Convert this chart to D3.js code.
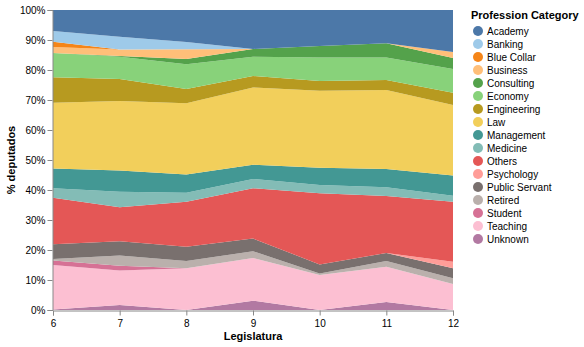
<!DOCTYPE html>
<html><head><meta charset="utf-8">
<script src="https://cdn.jsdelivr.net/npm/d3@7"></script>
<style>body{margin:0;background:#fff}svg{display:block;font-family:"Liberation Sans",Arial,sans-serif}</style>
</head><body><svg id="c" width="584" height="347"></svg>
<script>
const legislaturas = [6, 7, 8, 9, 10, 11, 12];
const categories = ["Academy","Banking","Blue Collar","Business","Consulting","Economy","Engineering","Law","Management","Medicine","Others","Psychology","Public Servant","Retired","Student","Teaching","Unknown"];
const colors = ["#4c78a8","#9ecae9","#f58518","#ffbf79","#54a24b","#88d27a","#b79a20","#f2cf5b","#439894","#83bcb6","#e45756","#ff9d98","#79706e","#bab0ac","#d67195","#fcbfd2","#b279a2"];
// percentage share per legislatura (6..12)
const academy       = [7.0, 8.9, 10.7, 13.0, 12.0, 11.1, 14.0];
const banking       = [3.6, 4.2, 2.4, 0, 0, 0, 0];
const blueCollar    = [1.7, 0, 0, 0, 0, 0, 0];
const business      = [2.0, 2.2, 3.2, 0, 0, 0, 2.0];
const consulting    = [0, 0.2, 1.8, 2.6, 3.8, 4.7, 3.7];
const economy       = [8.1, 7.4, 8.2, 6.4, 7.9, 7.5, 7.9];
const engineering   = [8.5, 7.3, 4.8, 3.8, 3.2, 3.4, 4.1];
const law           = [21.9, 23.1, 23.7, 25.8, 25.7, 26.3, 23.5];
const management    = [6.6, 7.0, 6.1, 4.7, 5.7, 6.1, 6.7];
const medicine      = [3.2, 5.2, 3.0, 3.1, 2.8, 2.9, 2.0];
const others        = [15.5, 11.3, 15.0, 16.8, 23.7, 19.0, 20.0];
const psychology    = [0, 0, 0, 0, 0, 0, 2.2];
const publicServant = [4.9, 4.7, 4.8, 4.2, 3.0, 2.7, 3.3];
const retired       = [0.5, 3.4, 2.4, 2.3, 0.5, 1.9, 1.9];
const student       = [1.5, 1.6, 0, 0, 0, 0, 0];
const teaching      = [14.8, 11.4, 13.9, 14.2, 11.7, 11.7, 8.7];
const unknown       = [0.2, 1.7, 0, 3.1, 0, 2.7, 0];
const yTicks = [0,0.1,0.2,0.3,0.4,0.5,0.6,0.7,0.8,0.9,1];

const seriesVals = [academy,banking,blueCollar,business,consulting,economy,engineering,law,management,medicine,others,psychology,publicServant,retired,student,teaching,unknown];
const rows = legislaturas.map((l,i)=>{const r={leg:l}; categories.forEach((c,j)=>r[c]=seriesVals[j][i]); return r;});

const svg = d3.select("#c");
const L=53, R=453, T=10, B=310;
const x = d3.scaleLinear().domain([6,12]).range([L,R]);
const y = d3.scaleLinear().domain([0,1]).range([B,T]);
const color = d3.scaleOrdinal().domain(categories).range(colors);

const stackKeys = categories.slice().reverse(); // Unknown at bottom
const stacked = d3.stack().keys(stackKeys).offset(d3.stackOffsetExpand)(rows);
const area = d3.area().x(d=>x(d.data.leg)).y0(d=>y(d[0])).y1(d=>y(d[1]));
svg.append("g").selectAll("path").data(stacked).join("path")
  .attr("d",area).attr("fill",d=>color(d.key));

// axes
const ya = svg.append("g").attr("transform",`translate(${L-0.5},0)`)
  .call(d3.axisLeft(y).tickValues(yTicks).tickFormat(d3.format(".0%")).tickSize(5).tickPadding(2));
const xa = svg.append("g").attr("transform",`translate(0,${B+0.5})`)
  .call(d3.axisBottom(x).tickValues(legislaturas).tickFormat(d3.format("d")).tickSize(5).tickPadding(2));
[ya,xa].forEach(a=>{
  a.selectAll(".domain").attr("stroke","#888");
  a.selectAll(".tick line").attr("stroke","#888");
  a.selectAll("text").attr("font-size",10).attr("fill","#000").attr("font-family","Liberation Sans,Arial,sans-serif");
});
xa.selectAll(".tick text").attr("dy","0.9em");

svg.append("text").attr("x",(L+R)/2).attr("y",340).attr("text-anchor","middle")
  .attr("font-size",11).attr("font-weight","bold").text("Legislatura");
svg.append("text").attr("transform",`translate(15,${(T+B)/2}) rotate(-90)`).attr("text-anchor","middle")
  .attr("font-size",11).attr("font-weight","bold").text("% deputados");

// legend
const lg = svg.append("g").attr("transform","translate(471,0)");
lg.append("text").attr("x",0).attr("y",19).attr("font-size",11).attr("font-weight","bold").text("Profession Category");
const items = lg.selectAll("g.it").data(categories).join("g").attr("transform",(d,i)=>`translate(0,${31+i*13})`);
items.append("circle").attr("cx",7).attr("cy",0).attr("r",5).attr("fill",d=>color(d));
items.append("text").attr("x",16).attr("y",0).attr("dy","0.35em").attr("font-size",10).text(d=>d);
</script></body></html>
